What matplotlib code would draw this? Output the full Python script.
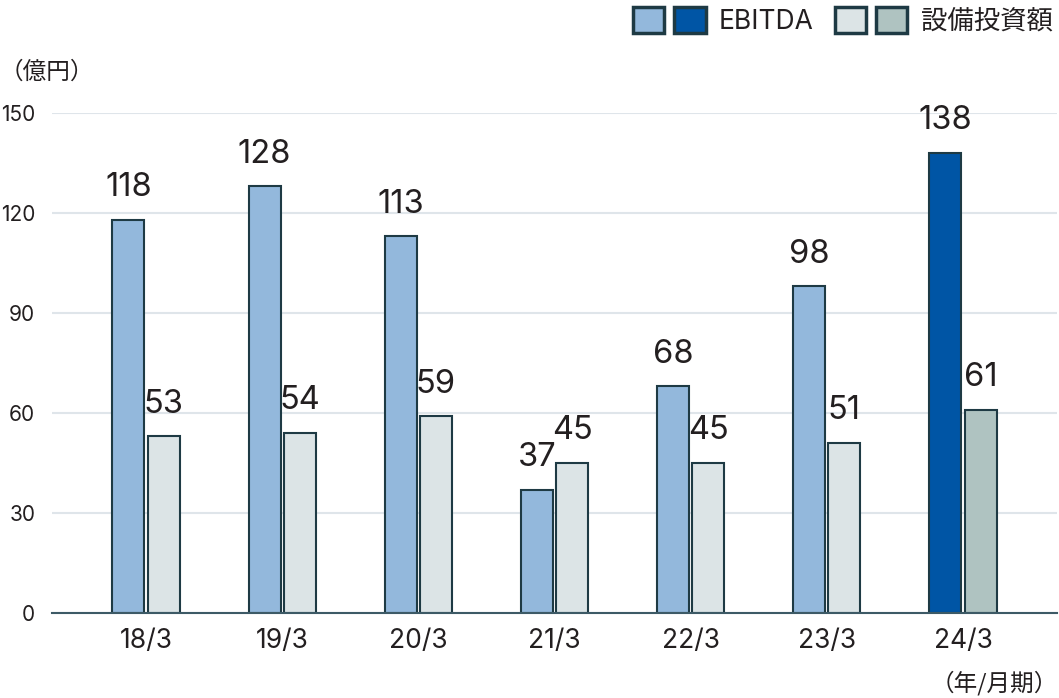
import matplotlib
matplotlib.use("Agg")
import matplotlib.pyplot as plt
from matplotlib.patches import Patch
from matplotlib.legend_handler import HandlerTuple
import numpy as np

plt.rcParams['font.family'] = ['Inter', 'Noto Sans CJK JP', 'DejaVu Sans']
CJK = ['Noto Sans CJK JP', 'DejaVu Sans']

categories = ["18/3", "19/3", "20/3", "21/3", "22/3", "23/3", "24/3"]
ebitda = [118, 128, 113, 37, 68, 98, 138]
capex = [53, 54, 59, 45, 45, 51, 61]
yticks = [0, 30, 60, 90, 120, 150]

EB_LIGHT = "#93b8dc"
EB_DARK = "#0055a5"
CX_LIGHT = "#dce4e6"
CX_DARK = "#afc3c1"
EDGE = "#1e3a44"
GRID = "#dfe5ea"
TEXT = "#231f20"

fig = plt.figure(figsize=(10.59, 6.98), dpi=100)
ax = fig.add_axes([52/1059, 1-613/698, 1005/1059, 500/698])

x = np.arange(len(categories))
w = 0.235
off = 0.129
eb_colors = [EB_LIGHT]*(len(x)-1) + [EB_DARK]
cx_colors = [CX_LIGHT]*(len(x)-1) + [CX_DARK]
ax.bar(x - off, ebitda, width=w, color=eb_colors, edgecolor=EDGE, linewidth=1.5, zorder=3)
ax.bar(x + off, capex, width=w, color=cx_colors, edgecolor=EDGE, linewidth=1.5, zorder=3)

for xi, v in zip(x, ebitda):
    ax.text(xi - off, v + 5.0, f"{v}", ha='center', va='bottom', fontsize=23.5, color=TEXT, clip_on=False)
for xi, v in zip(x, capex):
    ax.text(xi + off, v + 5.0, f"{v}", ha='center', va='bottom', fontsize=23.5, color=TEXT, clip_on=False)

ax.set_xlim(-0.69, len(x) - 1 + 0.69)
ax.set_ylim(0, 150)
ax.set_yticks(yticks)
ax.set_yticklabels([str(t) for t in yticks], fontsize=15, color=TEXT)
ax.set_xticks(x)
ax.set_xticklabels(categories, fontsize=19, color=TEXT)
ax.tick_params(axis='y', length=0, pad=12)
ax.tick_params(axis='x', length=0, pad=11)
ax.grid(axis='y', color=GRID, linewidth=1.5, zorder=0)
for s in ['top', 'right', 'left']:
    ax.spines[s].set_visible(False)
ax.spines['bottom'].set_color("#3d5a66")
ax.spines['bottom'].set_linewidth(1.5)
ax.spines['bottom'].set_zorder(4)

fig.text(0/1059, 1-72/698, "（億円）", fontsize=17, color=TEXT, ha='left', va='center', family=CJK)
fig.text(1058/1059, 1-683/698, "（年/月期）", fontsize=17, color=TEXT, ha='right', va='center', family=CJK)

h1 = (Patch(facecolor=EB_LIGHT, edgecolor=EDGE, linewidth=2.5), Patch(facecolor=EB_DARK, edgecolor=EDGE, linewidth=2.5))
h2 = (Patch(facecolor=CX_LIGHT, edgecolor=EDGE, linewidth=2.5), Patch(facecolor=CX_DARK, edgecolor=EDGE, linewidth=2.5))
leg = fig.legend([h1, h2], ["EBITDA", "設備投資額"],
                 handler_map={tuple: HandlerTuple(ndivide=None, pad=0.39)},
                 loc='upper right', bbox_to_anchor=(1.0, 1.0), ncol=2, frameon=False,
                 prop={'family': ['Inter', 'Noto Sans CJK JP'], 'size': 19},
                 handlelength=2.75, handleheight=1.15, handletextpad=0.5,
                 columnspacing=0.8, borderaxespad=0.15, borderpad=0.1)
for t in leg.get_texts():
    t.set_color(TEXT)

fig.savefig("out.png", dpi=100)
